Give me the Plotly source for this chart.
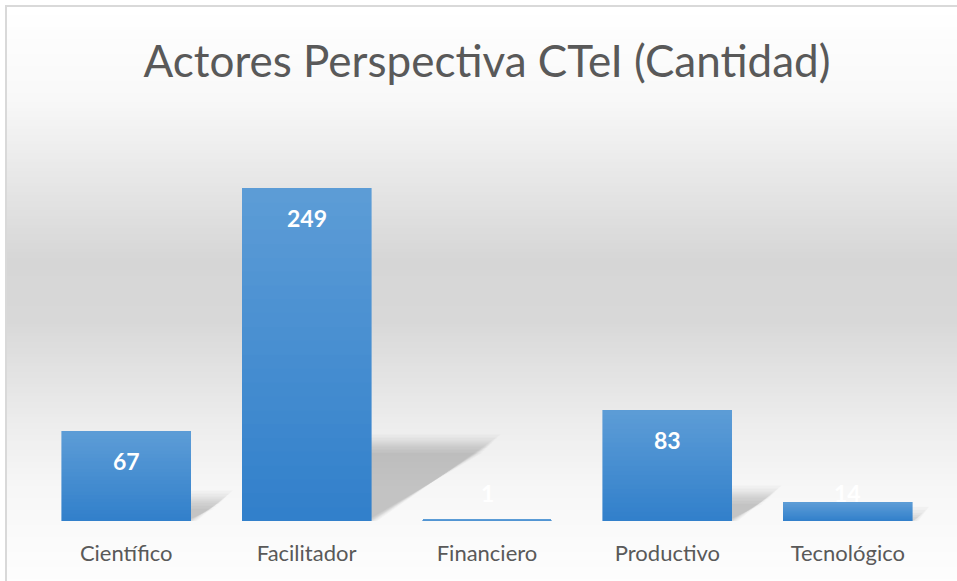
import plotly.graph_objects as go

categories = ["Científico", "Facilitador", "Financiero", "Productivo", "Tecnológico"]
values = [67, 249, 1, 83, 14]
title_text = "Actores Perspectiva CTeI (Cantidad)"

W, H = 957, 581
plot_left, plot_right = 36, 938
plot_top, plot_bottom = 120, 521
y_max = 300
bargap = 0.285
px_per_unit = (plot_bottom - plot_top) / y_max
px_per_cat = (plot_right - plot_left) / len(categories)

FONT = "Lato"
TXT = "#595959"

def lerp(c1, c2, t):
    return tuple(round(a + (b - a) * t) for a, b in zip(c1, c2))

def hexc(c):
    return "#%02x%02x%02x" % c

xs = list(range(len(categories)))
fig = go.Figure()

# gradient bars built from stacked slices of each value
N = 24
top_c = (92, 156, 214)
bot_c = (50, 128, 203)
for i in range(N):
    t = i / (N - 1)
    col = hexc(lerp(bot_c, top_c, t))
    fig.add_trace(go.Bar(
        x=xs, y=[v / N for v in values],
        marker=dict(color=col, line=dict(width=0.6, color=col)),
        hoverinfo="skip", showlegend=False,
    ))

# data labels
annotations = []
for x, v in zip(xs, values):
    y_lab = max(v - 30 / px_per_unit, 28 / px_per_unit)
    annotations.append(dict(
        x=x, y=y_lab, xref="x", yref="y", text=f"<b>{v}</b>",
        showarrow=False, yanchor="middle",
        font=dict(family=FONT, size=23, color="white"),
    ))

# background vertical gradient
stops = [(0, (255, 255, 255)), (7, (255, 255, 255)), (100, (248, 248, 248)),
         (170, (233, 233, 233)), (260, (214, 214, 214)), (320, (216, 216, 216)),
         (420, (236, 236, 236)), (490, (247, 247, 247)), (600, (255, 255, 255))]

def bg_color(y):
    for (y0, c0), (y1, c1) in zip(stops[:-1], stops[1:]):
        if y0 <= y <= y1:
            return lerp(c0, c1, (y - y0) / (y1 - y0) if y1 > y0 else 0)
    return stops[-1][1]

shapes = []
step = 3
for y in range(6, H, step):
    col = hexc(bg_color(y + step / 2))
    shapes.append(dict(type="rect", xref="paper", yref="paper",
                       x0=6 / W, x1=1, y0=1 - (y + step + 0.5) / H, y1=1 - y / H,
                       fillcolor=col, line=dict(width=0), layer="below"))

# soft perspective shadows behind bars (derived from bar values)
hw = (1 - bargap) / 2
for x, v in zip(xs, values):
    if v * px_per_unit < 5:
        continue
    dy = 0.23 * v
    dx = 0.36 * v * px_per_unit / px_per_cat
    for grow in [-8, -5, -2, 0, 2, 4, 7, 10]:
        gx = grow / px_per_cat
        gy = grow / px_per_unit
        top = max(dy + gy, 0)
        path = (f"M {x - hw} 0 L {x + hw + gx * 0.6} 0 "
                f"L {x + hw + dx + gx} {top} "
                f"L {x - hw + dx} {top} Z")
        shapes.append(dict(type="path", xref="x", yref="y", path=path,
                           fillcolor="rgba(0,0,0,0.026)", line=dict(width=0),
                           layer="below"))

# chart frame
shapes.append(dict(type="rect", xref="paper", yref="paper",
                   x0=6 / W, x1=1.02, y0=-0.02, y1=1 - 6 / H,
                   fillcolor="rgba(0,0,0,0)", line=dict(width=2, color="#d9d9d9"),
                   layer="above"))

fig.update_layout(
    width=W, height=H,
    margin=dict(l=0, r=0, t=0, b=0),
    paper_bgcolor="white", plot_bgcolor="rgba(0,0,0,0)",
    barmode="stack", bargap=bargap,
    title=dict(text=title_text, x=487 / W, xanchor="center",
               y=1 - 62 / H, yanchor="middle",
               font=dict(family=FONT, size=44, color=TXT)),
    xaxis=dict(domain=[plot_left / W, plot_right / W], range=[-0.5, len(xs) - 0.5],
               tickmode="array", tickvals=xs, ticktext=categories,
               showgrid=False, showline=False, zeroline=False,
               ticks="outside", ticklen=13, tickcolor="rgba(0,0,0,0)",
               tickfont=dict(family=FONT, size=22, color=TXT)),
    yaxis=dict(domain=[1 - plot_bottom / H, 1 - plot_top / H], range=[0, y_max],
               visible=False, showgrid=False, zeroline=False),
    shapes=shapes, annotations=annotations,
    hovermode=False,
)

fig.write_html("out.html", config={"displayModeBar": False},
               post_script="document.body.style.margin='0';document.body.style.overflow='hidden';")
